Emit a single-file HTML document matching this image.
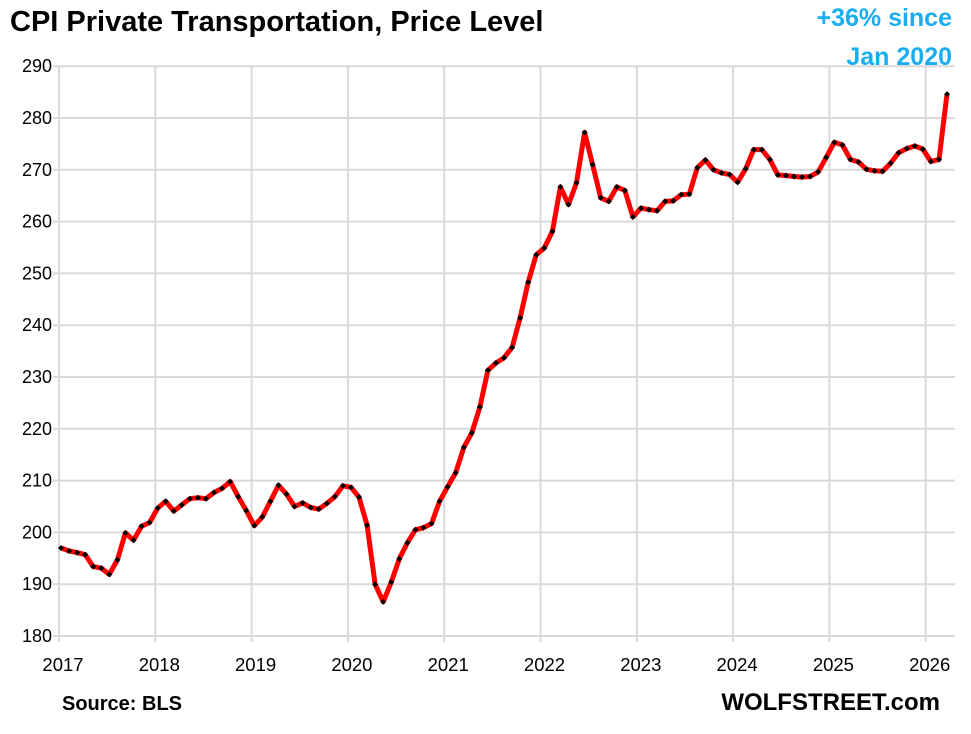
<!DOCTYPE html>
<html><head><meta charset="utf-8"><style>
body{margin:0;background:#fff;}
svg{display:block;font-family:"Liberation Sans",sans-serif;}
</style></head><body>
<svg width="971" height="734" viewBox="0 0 971 734">
<rect width="971" height="734" fill="#fff"/>
<g id="grid" stroke="#d9d9d9" stroke-width="2"></g>
<text x="10" y="31" font-size="29" font-weight="bold" fill="#000">CPI Private Transportation, Price Level</text>
<text x="952" y="26" font-size="25" font-weight="bold" fill="#1aaef0" text-anchor="end">+36% since</text>
<text x="952" y="65" font-size="25" font-weight="bold" fill="#1aaef0" text-anchor="end">Jan 2020</text>
<g id="ylab" font-size="18" fill="#000" text-anchor="end"></g>
<g id="xlab" font-size="18.5" fill="#000" text-anchor="middle"></g>
<polyline id="line" fill="none" stroke="#ff0000" stroke-width="5" stroke-linejoin="round"/>
<g id="pts" fill="#000"></g>
<text x="62" y="710" font-size="20" font-weight="bold">Source: BLS</text>
<text x="940" y="710" font-size="24" font-weight="bold" text-anchor="end">WOLFSTREET.com</text>
</svg>
<script>
var ns="http://www.w3.org/2000/svg";
function el(t,a,p,txt){var e=document.createElementNS(ns,t);for(var k in a)e.setAttribute(k,a[k]);if(txt)e.textContent=txt;document.getElementById(p).appendChild(e);}
function Y(v){return 636-(v-180)*5.18;}
for(var v=180;v<=290;v+=10){var y=Y(v);el("line",{x1:53,x2:955,y1:y,y2:y},"grid");el("text",{x:52,y:y+6},"ylab",""+v);}
for(var i=0;i<=9;i++){var x=59+i*96.3;el("line",{x1:x,x2:x,y1:66,y2:642},"grid");el("text",{x:x+4,y:671},"xlab",""+(2017+i));}
var d=[197,196.4,196.1,195.7,193.4,193.1,191.9,194.7,199.9,198.5,201.2,201.9,
204.7,206.0,204.1,205.3,206.5,206.7,206.5,207.7,208.5,209.8,206.9,204.2,
201.3,203.0,206.0,209.1,207.4,205.0,205.7,204.8,204.5,205.6,206.9,209.0,
208.7,206.8,201.4,190.0,186.6,190.4,194.9,198.0,200.5,200.9,201.7,206.0,
208.8,211.5,216.4,219.2,224.2,231.3,232.7,233.7,235.7,241.4,248.3,253.6,
254.9,258.1,266.7,263.3,267.5,277.2,271.0,264.6,263.9,266.7,266.0,260.9,
262.6,262.3,262.1,263.9,264.0,265.2,265.3,270.4,271.9,270.0,269.4,269.1,
267.6,270.2,273.9,273.9,272.0,269.0,268.9,268.7,268.6,268.7,269.6,272.4,
275.3,274.8,272.0,271.5,270.1,269.8,269.7,271.3,273.3,274.1,274.6,274.0,
271.6,272.0,284.6];
var pts=[];
for(var i=0;i<d.length;i++){var x=61+i*8.055,y=Y(d[i]);pts.push(x.toFixed(1)+","+y.toFixed(1));
el("polygon",{points:(x)+","+(y-3)+" "+(x+3)+","+y+" "+x+","+(y+3)+" "+(x-3)+","+y},"pts");}
document.getElementById("line").setAttribute("points",pts.join(" "));
</script>
</body></html>
